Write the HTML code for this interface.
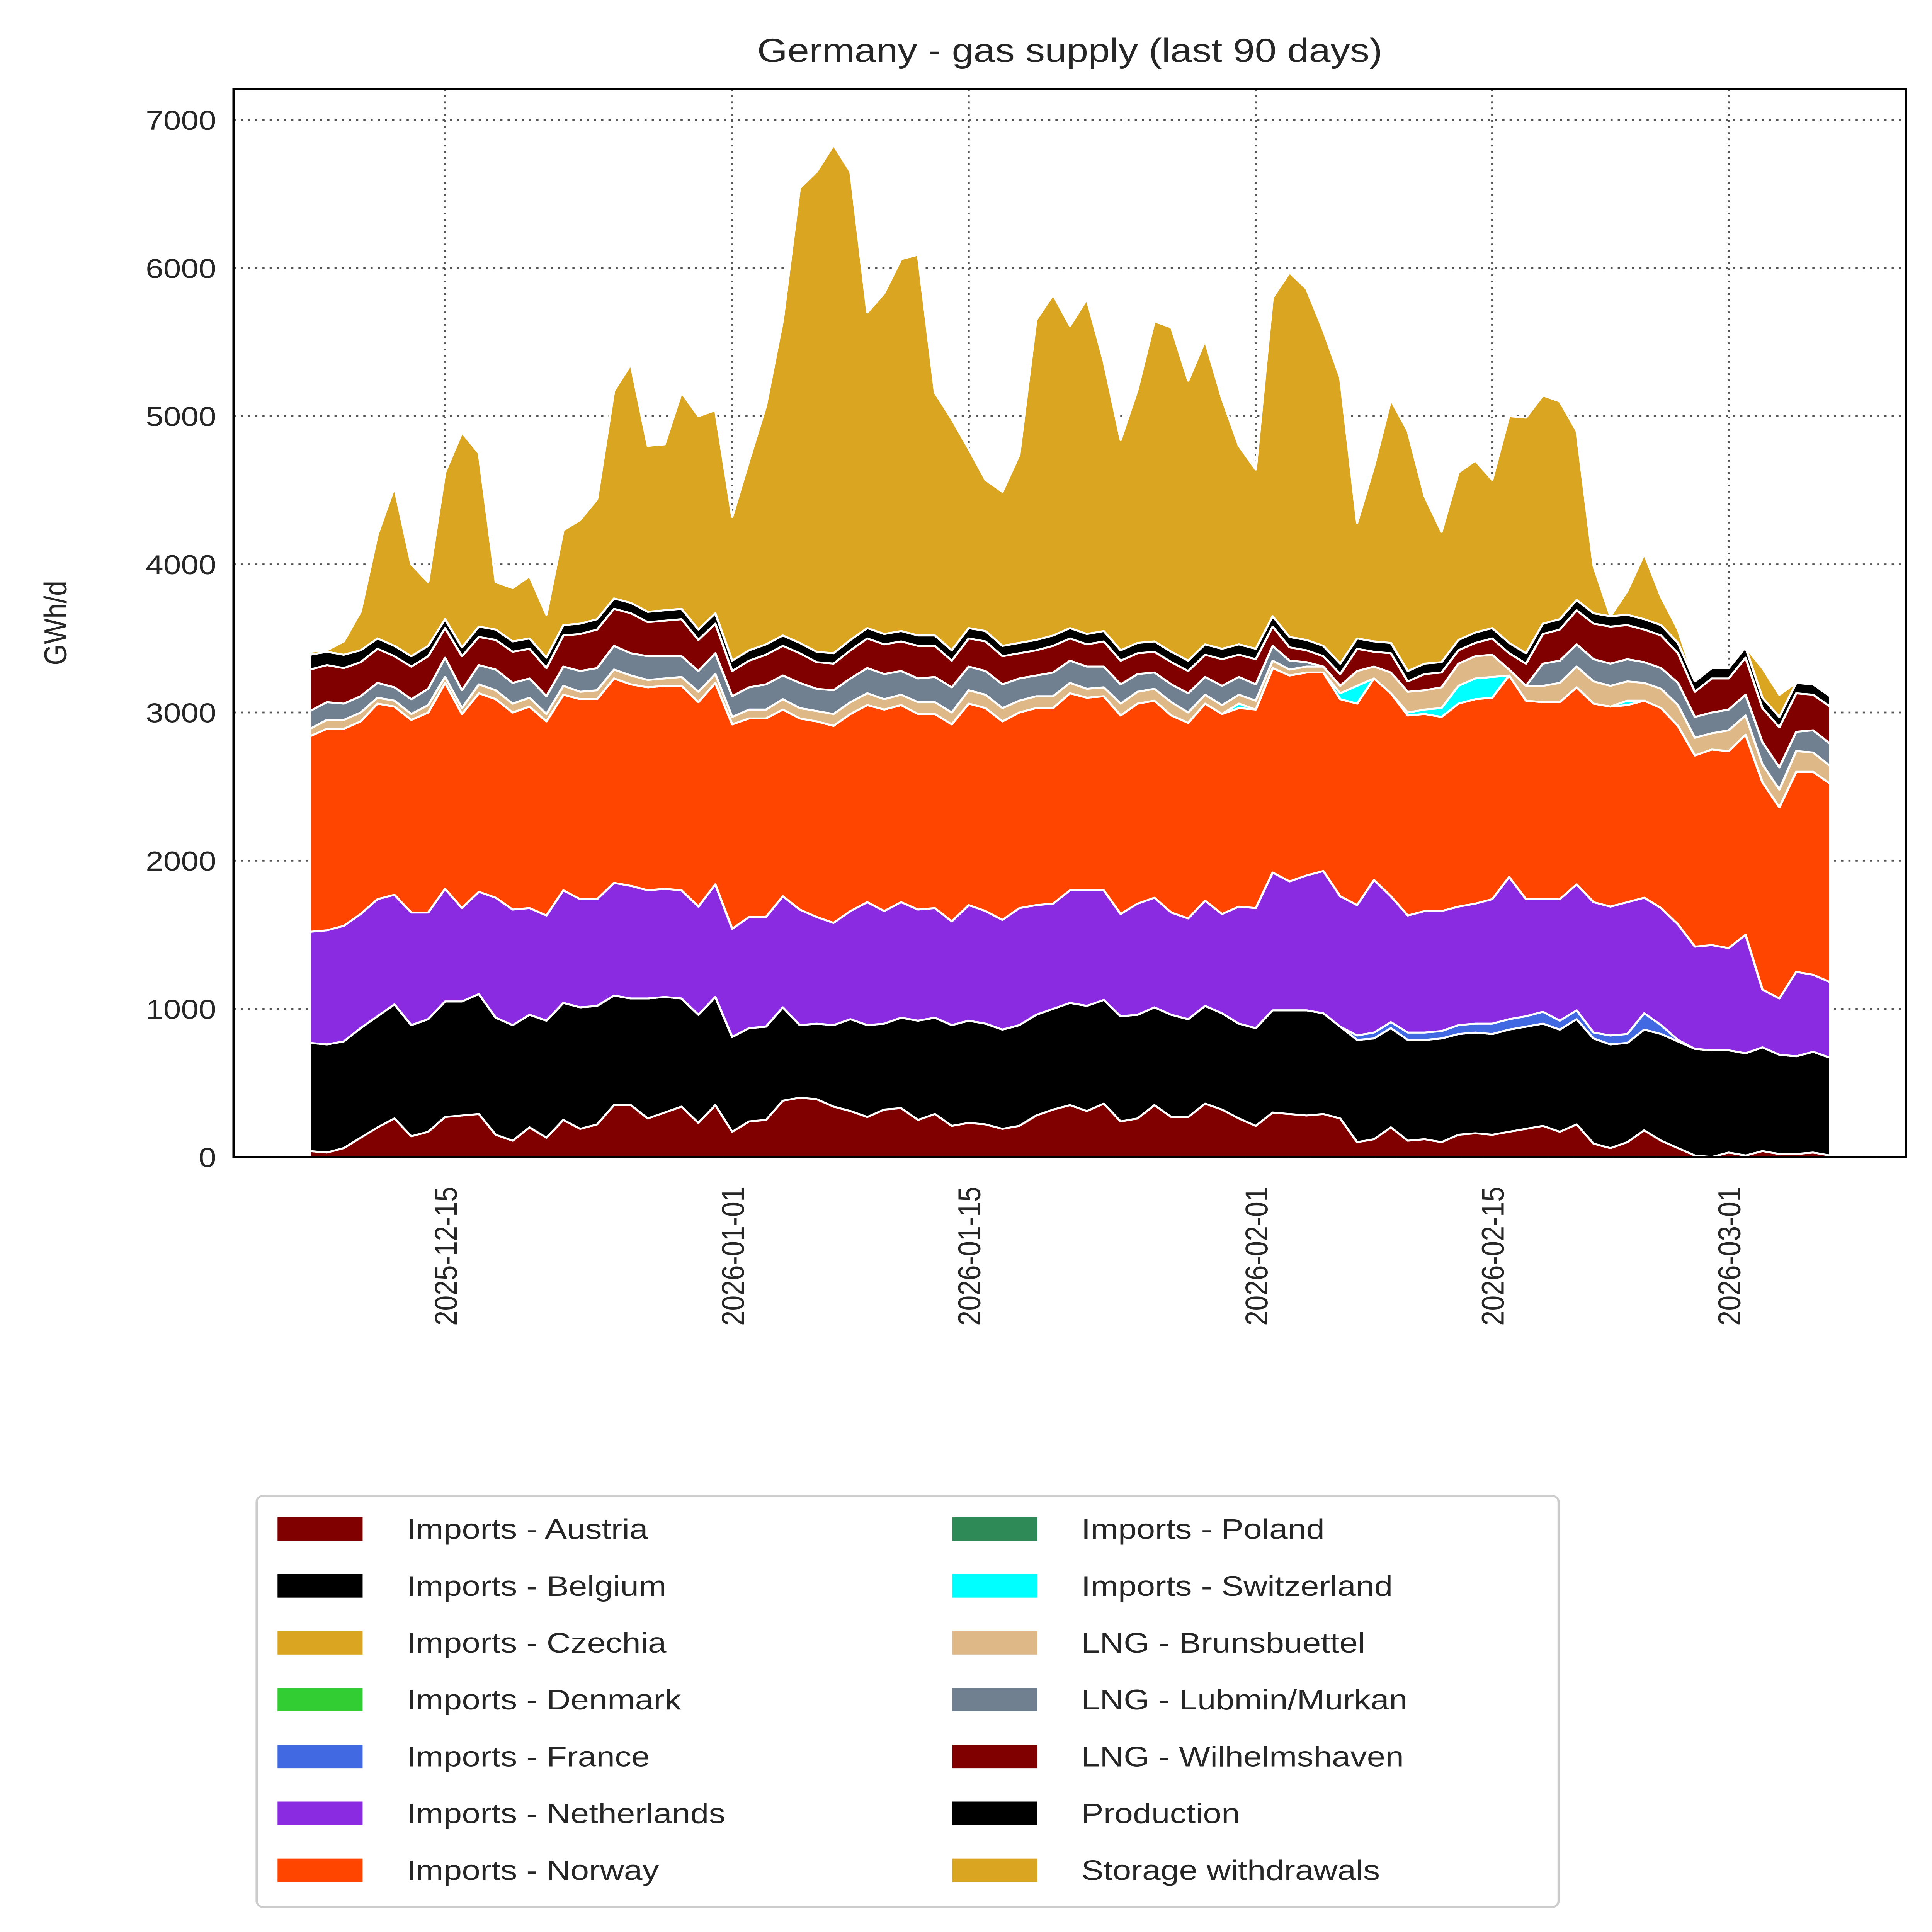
<!DOCTYPE html>
<html><head><meta charset="utf-8">
<style>
html,body{margin:0;padding:0;background:#fff;overflow:hidden;width:100%;height:100%;}
svg{display:block;width:100vw;height:100vh;}
text{font-family:"Liberation Sans","DejaVu Sans",sans-serif;fill:#262626;}
</style></head>
<body>
<svg id="chart" viewBox="0 0 1340 1563" preserveAspectRatio="none" xmlns="http://www.w3.org/2000/svg">
<rect x="0" y="0" width="1340" height="1563" fill="#fff"/>
<text x="742" y="50" font-size="27" text-anchor="middle">Germany - gas supply (last 90 days)</text>
<text x="0" y="0" font-size="22" text-anchor="middle" transform="translate(46,504) rotate(-90)">GWh/d</text>
<g id="grid"></g>
<g id="areas" clip-path="url(#clip)"></g>
<defs><clipPath id="clip"><rect x="162" y="72" width="1160" height="864"/></clipPath></defs>
<rect x="162" y="72" width="1160" height="864" fill="none" stroke="#000" stroke-width="1.6"/>
<g id="yticks"></g>
<g id="xticks"></g>
<g id="legend">
<rect x="178" y="1210" width="903" height="333" rx="5" fill="#fff" stroke="#ccc" stroke-width="1.5"/>
</g>
</svg>
<script>
const startDate = "2025-12-07";
const seriesNames = ["Imports - Austria","Imports - Belgium","Imports - Czechia","Imports - Denmark","Imports - France","Imports - Netherlands","Imports - Norway","Imports - Poland","Imports - Switzerland","LNG - Brunsbuettel","LNG - Lubmin/Murkan","LNG - Wilhelmshaven","Production","Storage withdrawals"];
const seriesColors = ["#800000","#000000","#daa520","#32cd32","#4169e1","#8a2be2","#ff4500","#2e8b57","#00ffff","#deb887","#708090","#800000","#000000","#daa520"];
const austria = [40,30,60,130,200,260,140,170,270,280,290,150,110,200,130,250,190,220,350,350,260,300,340,230,350,170,240,250,380,400,390,340,310,270,320,330,250,290,210,230,220,190,210,280,320,350,310,360,240,260,350,270,270,360,320,260,210,300,290,280,290,260,100,120,200,110,120,100,150,160,150,170,190,210,170,220,90,60,100,180,110,60,10,0,30,10,40,20,20,30,10];
const belgium = [730,730,720,740,750,770,750,760,780,770,810,790,780,760,790,790,820,800,740,720,810,780,730,730,730,640,630,630,630,490,510,550,620,620,580,610,670,650,680,690,680,670,680,680,680,690,710,700,710,700,660,690,660,660,650,640,660,690,700,710,680,620,690,680,670,680,670,700,680,680,680,690,690,690,690,710,710,700,670,680,720,720,720,720,690,690,700,670,660,680,660];
const czechia = new Array(91).fill(0);
const denmark = new Array(91).fill(0);
const france = [0,0,0,0,0,0,0,0,0,0,0,0,0,0,0,0,0,0,0,0,0,0,0,0,0,0,0,0,0,0,0,0,0,0,0,0,0,0,0,0,0,0,0,0,0,0,0,0,0,0,0,0,0,0,0,0,0,0,0,0,0,0,30,40,40,50,50,50,60,60,70,70,70,80,60,60,40,60,60,110,60,10,0,0,0,0,0,0,0,0,0];
const netherlands = [750,770,780,770,790,740,760,720,760,630,690,810,780,720,710,760,730,720,760,760,730,730,730,730,760,730,750,740,750,780,720,690,730,830,760,780,750,740,700,780,760,740,790,740,710,760,780,740,690,750,740,690,680,710,670,790,810,930,870,910,960,880,880,1030,850,790,820,810,800,810,840,960,790,760,820,850,880,870,890,780,790,780,690,710,690,800,390,380,570,520,510];
const norway = [1320,1360,1330,1300,1320,1270,1300,1350,1390,1310,1340,1340,1330,1360,1310,1320,1350,1350,1380,1360,1370,1370,1380,1380,1360,1380,1340,1340,1260,1290,1320,1330,1330,1330,1360,1330,1320,1310,1330,1360,1370,1340,1320,1330,1320,1330,1300,1310,1340,1350,1330,1330,1320,1330,1350,1340,1340,1380,1390,1370,1340,1330,1360,1360,1370,1350,1330,1310,1370,1380,1360,1360,1340,1330,1330,1330,1340,1350,1330,1330,1350,1340,1290,1320,1330,1350,1400,1290,1350,1370,1340];
const poland = new Array(91).fill(0);
const switzerland = [0,0,0,0,0,0,0,0,0,0,0,0,0,0,0,0,0,0,0,0,0,0,0,0,0,0,0,0,0,0,0,0,0,0,0,0,0,0,0,0,0,0,0,0,0,0,0,0,0,0,0,0,0,0,0,30,0,0,0,0,0,40,120,0,0,20,30,60,120,140,140,0,0,0,0,0,0,0,30,0,0,0,0,0,0,0,0,0,0,0,0];
const brunsbuettel = [50,60,60,60,40,40,40,50,40,40,60,60,60,60,50,60,50,60,60,60,50,50,60,70,60,50,60,60,70,70,70,80,80,80,70,70,80,80,80,90,90,90,80,80,80,70,60,60,80,80,80,90,70,60,60,60,60,50,40,40,40,50,100,80,140,140,130,140,150,150,150,40,100,110,130,140,150,140,130,120,130,140,120,110,140,130,120,120,140,130,120];
const lubmin = [120,120,110,110,100,90,100,110,130,120,130,140,140,130,120,130,140,150,160,150,160,150,140,140,140,140,150,170,160,170,150,160,160,170,170,160,160,170,170,160,160,160,150,140,160,150,150,140,130,120,110,120,130,120,130,120,110,100,60,30,0,0,0,0,0,0,0,0,0,0,0,0,0,150,150,150,150,150,150,140,140,150,140,140,140,140,150,150,130,150,150];
const wilhelmshaven = [280,250,240,230,230,210,220,220,200,230,190,200,210,200,190,210,250,260,250,270,230,240,250,210,200,170,180,200,200,200,180,180,190,200,200,200,220,210,180,190,200,190,170,170,180,150,150,170,160,140,140,150,150,150,180,150,170,130,90,80,70,80,150,100,130,70,110,100,90,90,110,110,150,200,210,230,240,250,230,220,220,200,170,230,210,250,230,270,260,240,250];
const production = [100,90,90,80,70,70,70,70,60,60,70,70,70,70,70,70,70,70,70,70,70,70,70,70,70,70,70,70,70,70,70,70,70,70,70,70,70,70,70,70,70,70,70,70,70,70,70,70,70,70,70,70,70,70,70,70,70,70,70,70,70,70,70,70,70,70,70,70,70,70,70,70,70,70,70,70,70,70,70,70,70,70,70,70,70,70,70,70,70,70,70];
const storage = [20,10,90,260,700,1070,620,430,990,1450,1170,320,360,420,290,640,700,810,1400,1610,1120,1120,1460,1440,1370,970,1280,1610,2130,3070,3240,3430,3160,2130,2300,2510,2570,1640,1560,1210,1020,1040,1270,2160,2300,2040,2260,1820,1420,1710,2160,2190,1890,2050,1690,1340,1210,2150,2460,2370,2130,1930,780,1180,1640,1620,1130,880,1130,1160,1000,1530,1590,1540,1470,1140,320,0,160,440,190,90,0,0,0,0,200,150,0,0,0];
const yTicks = [0,1000,2000,3000,4000,5000,6000,7000];
const xTickLabels = ["2025-12-15","2026-01-01","2026-01-15","2026-02-01","2026-02-15","2026-03-01"];

const NS = "http://www.w3.org/2000/svg";
const allSeries = [austria,belgium,czechia,denmark,france,netherlands,norway,poland,switzerland,brunsbuettel,lubmin,wilhelmshaven,production,storage];
const t0 = Date.parse(startDate + "T00:00:00Z");
const DAY = 86400000;
function xScale(dayIndex){ return 215 + dayIndex * 11.714; }
function xDate(str){ return xScale((Date.parse(str + "T00:00:00Z") - t0) / DAY); }
function yScale(v){ return 936 - v * (839 / 7000); }
function mk(tag, attrs, parent){
  const el = document.createElementNS(NS, tag);
  for (const k in attrs) el.setAttribute(k, attrs[k]);
  parent.appendChild(el);
  return el;
}
const grid = document.getElementById("grid");
const yt = document.getElementById("yticks");
yTicks.forEach(v => {
  const y = yScale(v);
  const ln = mk("line", {x1:162, x2:1322, y1:y, y2:y, stroke:"#555", "stroke-width":1.5, "stroke-dasharray":"1.5,3.5"}, grid);
  
  
  const t = mk("text", {x:150, y:y + 8, "font-size":22, "text-anchor":"end"}, yt);
  t.textContent = v;
  
  
});
const xt = document.getElementById("xticks");
xTickLabels.forEach(s => {
  const x = xDate(s);
  const ln = mk("line", {x1:x, x2:x, y1:72, y2:936, stroke:"#555", "stroke-width":1.5, "stroke-dasharray":"1.5,3.5"}, grid);
  
  
  const t = mk("text", {x:0, y:0, "font-size":22, "text-anchor":"end", transform:"translate(" + (x + 8) + ",960) rotate(-90)"}, xt);
  t.textContent = s;
  
  
});
const areas = document.getElementById("areas");
const n = austria.length;
let base = new Array(n).fill(0);
allSeries.forEach((ser, k) => {
  const top = base.map((b, i) => b + ser[i]);
  let d = "";
  for (let i = 0; i < n; i++) d += (i ? "L" : "M") + xScale(i).toFixed(2) + "," + yScale(top[i]).toFixed(2);
  for (let i = n - 1; i >= 0; i--) d += "L" + xScale(i).toFixed(2) + "," + yScale(base[i]).toFixed(2);
  d += "Z";
  const p = mk("path", {d:d, fill:seriesColors[k], stroke:"#fff", "stroke-width":1.6, "stroke-linejoin":"round"}, areas);
  
  
  base = top;
});
const lg = document.getElementById("legend");
seriesNames.forEach((name, k) => {
  const col = k < 7 ? 0 : 1;
  const row = k % 7;
  const px = col ? 660 : 192;
  const cy = 1237 + row * 46;
  const r = mk("rect", {x:px, y:cy - 10, width:60, height:20, fill:seriesColors[k], stroke:"#fff", "stroke-width":1}, lg);
  
  
  const t = mk("text", {x:px + 90, y:cy + 8, "font-size":23}, lg);
  t.textContent = name;
  
  
});
</script>
</body></html>
